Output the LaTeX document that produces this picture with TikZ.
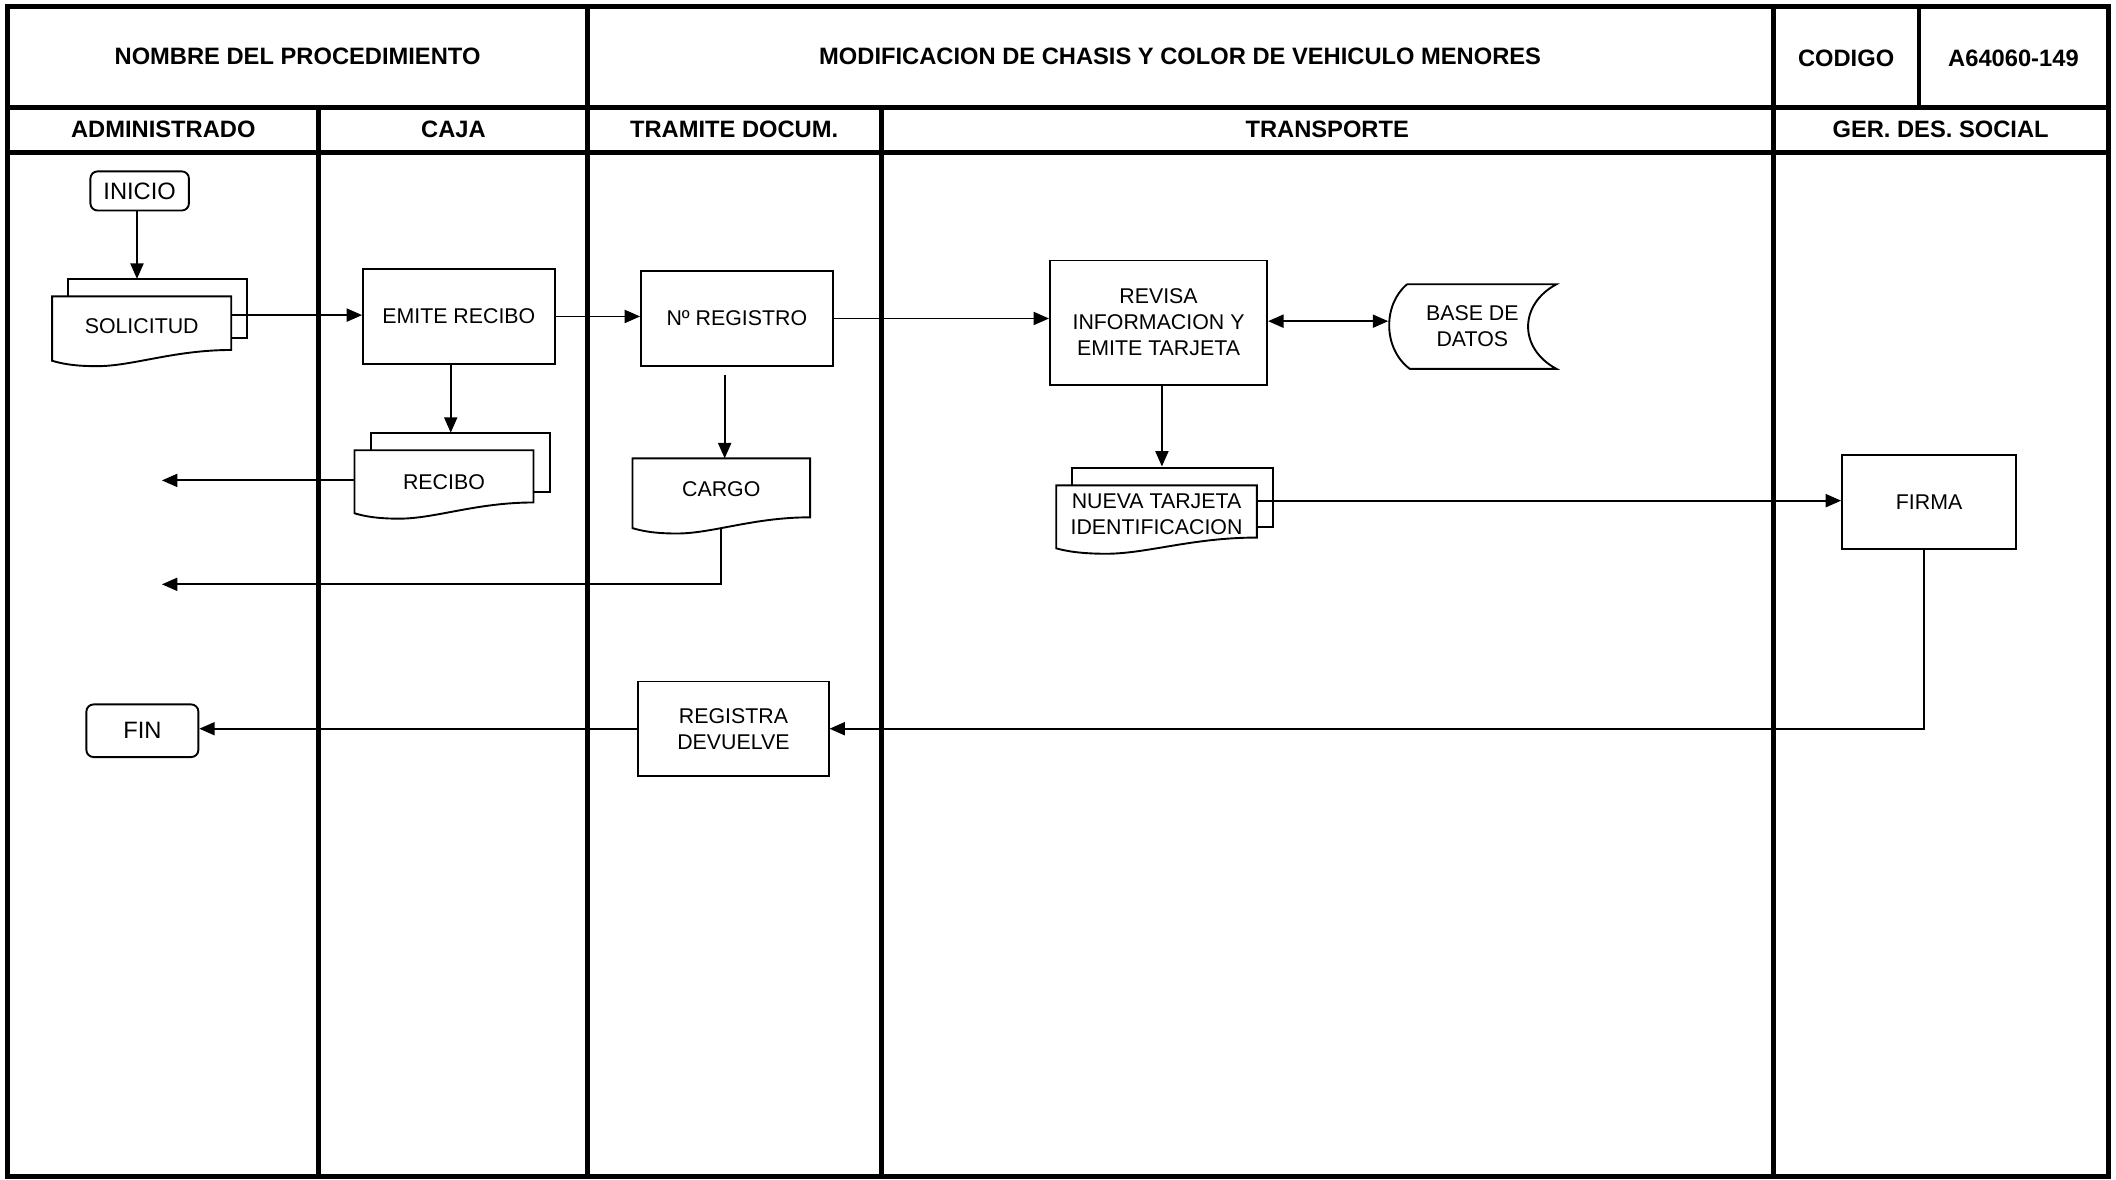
\documentclass[tikz,border=0pt]{standalone}
\usepackage{fontspec}
\setmainfont{Liberation Sans}
\usetikzlibrary{arrows.meta,calc}
\newcommand\docfront[1]{%
  \draw[conn,fill=white] (#1.south west) -- (#1.north west) -- (#1.north east) -- ($(#1.south east)+(0,-8)$)
    .. controls ($(#1.south west)!0.68!(#1.south east)+(0,-8)$) and ($(#1.south west)!0.45!(#1.south east)+(0,4)$) .. ($(#1.south west)!0.25!(#1.south east)+(0,4)$)
    .. controls ($(#1.south west)!0.12!(#1.south east)+(0,4)$) and ($(#1.south west)!0.05!(#1.south east)+(0,2)$) .. (#1.south west) -- cycle;}
\newcommand\docback[1]{%
  \draw[conn] ($(#1.north west)+(12,0)$) -- ($(#1.north west)+(12,-13)$) -- ($(#1.north east)+(12,-13)$) -- ($(#1.north east)+(12,31)$) -- ($(#1.north east)+(0,31)$);}
\begin{document}
\begin{tikzpicture}[x=0.02cm,y=-0.02cm,
  frame/.style={line width=2.1pt},
  conn/.style={line width=0.8pt},
  arr/.style={conn,-{Triangle[length=6.5pt,width=5.5pt]}},
  darr/.style={conn,{Triangle[length=6.5pt,width=5.5pt]}-{Triangle[length=6.5pt,width=5.5pt]}},
  hdr/.style={font=\bfseries\fontsize{10}{12}\selectfont},
  proc/.style={draw,line width=0.8pt,font=\fontsize{9}{11}\selectfont,align=center,inner sep=0pt},
  term/.style={draw,line width=0.8pt,rounded corners=3pt,font=\fontsize{10}{12}\selectfont,inner sep=0pt},
  docn/.style={draw=none,font=\fontsize{9}{11}\selectfont,align=center,inner sep=0pt},
]
\useasboundingbox (0,0) rectangle (1568,874);
% frame
\draw[frame] (5.5,5) rectangle (1562.5,871.5);
\draw[frame] (5.5,80) -- (1562.5,80);
\draw[frame] (5.5,113) -- (1562.5,113);
\draw[frame] (435,5) -- (435,871.5);
\draw[frame] (1314,5) -- (1314,871.5);
\draw[frame] (1422,5) -- (1422,80);
\draw[frame] (236,80) -- (236,871.5);
\draw[frame] (653,80) -- (653,871.5);
% header texts
\node[hdr] (t1) at (220.5,42) {NOMBRE DEL PROCEDIMIENTO};
\node[hdr] (t2) at (874.5,42) {MODIFICACION DE CHASIS Y COLOR DE VEHICULO MENORES};
\node[hdr] (t3) at (1368,43) {CODIGO};
\node[hdr] (t4) at (1492,43) {A64060-149};
\node[hdr] (l1) at (121,96) {ADMINISTRADO};
\node[hdr] (l2) at (336,96) {CAJA};
\node[hdr] (l3) at (544,96) {TRAMITE DOCUM.};
\node[hdr] (l4) at (983.5,96) {TRANSPORTE};
\node[hdr] (l5) at (1438,96) {GER. DES. SOCIAL};
% nodes
\node[term,minimum width=1.46cm,minimum height=0.58cm] (ini) at (103.5,141.5) {INICIO};
\node[docn,minimum width=2.64cm,minimum height=0.94cm] (sol) at (105,243.5) {};
\docback{sol}\docfront{sol}
\node[docn] at ($(sol)+(0,-2)$) {SOLICITUD};
\node[proc,minimum width=2.84cm,minimum height=1.42cm] (emite) at (340,234.5) {EMITE RECIBO};
\node[proc,minimum width=2.84cm,minimum height=1.40cm] (reg) at (546,236) {Nº REGISTRO};
\node[proc,minimum width=3.22cm,minimum height=1.84cm] (rev) at (858.5,239) {REVISA\\INFORMACION Y\\EMITE TARJETA};
\node[docn,minimum width=2.48cm,minimum height=1.24cm] (bd) at (1091,242) {};
\draw[conn] ($(bd.north west)+(14,0)$) -- (bd.north east)
  .. controls ($(bd.north east)+(-28,15)$) and ($(bd.south east)+(-28,-15)$) .. (bd.south east)
  -- ($(bd.south west)+(16,0)$)
  .. controls ($(bd.south west)+(-4,-15)$) and ($(bd.north west)+(-4,15)$) .. ($(bd.north west)+(14,0)$);
\node[docn] at (bd) {BASE DE\\DATOS};
\node[docn,minimum width=2.96cm,minimum height=0.92cm] (nueva) at (857,383) {};
\docback{nueva}\docfront{nueva}
\node[docn] at ($(nueva)+(0,-2)$) {NUEVA TARJETA\\IDENTIFICACION};
\node[proc,minimum width=2.58cm,minimum height=1.40cm] (firma) at (1429.5,372) {FIRMA};
\node[proc,minimum width=2.82cm,minimum height=1.40cm] (regdev) at (543.5,540) {REGISTRA\\DEVUELVE};
\node[term,minimum width=1.66cm,minimum height=0.78cm] (fin) at (105.5,541.5) {FIN};
\node[docn,minimum width=2.64cm,minimum height=0.92cm] (recibo) at (329,357) {};
\docback{recibo}\docfront{recibo}
\node[docn] at (recibo) {RECIBO};
\node[docn,minimum width=2.62cm,minimum height=1.02cm] (cargo) at (534.5,365.5) {};
\docfront{cargo}
\node[docn] at ($(cargo)+(0,-3)$) {CARGO};
% helper coordinates
\coordinate (soltop) at ($(sol.north)+(0,-13)$);
\coordinate (nuevatop) at ($(nueva.north)+(0,-14)$);
\coordinate (recibotop) at ($(recibo.north)+(0,-13)$);
\coordinate (out1) at (120,357);
\coordinate (out2) at (120,433);
% connectors
\draw[arr] ($(ini.south)+(-2,0)$) -- ($(ini.south |- soltop)+(-2,0)$);
\draw[arr] ($(sol.east |- emite.west)+(0,-1)$) -- ($(emite.west)+(0,-1)$);
\draw[arr] (emite.east) -- (emite.east -| reg.west);
\draw[arr] (reg.east) -- (reg.east -| rev.west);
\draw[darr] ($(rev.east)+(0,-1)$) -- ($(rev.east -| bd.west)+(0,-1)$);
\draw[arr] ($(rev.south)+(2.5,0)$) -- ($(rev.south |- nuevatop)+(2.5,0)$);
\draw[arr] ($(nueva.east |- firma.west)+(0,-1)$) -- ($(firma.west)+(0,-1)$);
\draw[arr] ($(firma.south)+(-4,0)$) |- (regdev.east);
\draw[arr] (regdev.west) -- (regdev.west -| fin.east);
\draw[arr] ($(emite.south)+(-6,0)$) -- ($(emite.south |- recibotop)+(-6,0)$);
\draw[arr] ($(recibo.west)+(0,-1)$) -- ($(out1)+(0,-1)$);
\draw[arr] ($(cargo.north |- reg.south)+(2.5,6)$) -- ($(cargo.north)+(2.5,0)$);
\draw[arr] (cargo.south) -- (cargo.south |- out2) -- (out2);
\end{tikzpicture}
\end{document}
